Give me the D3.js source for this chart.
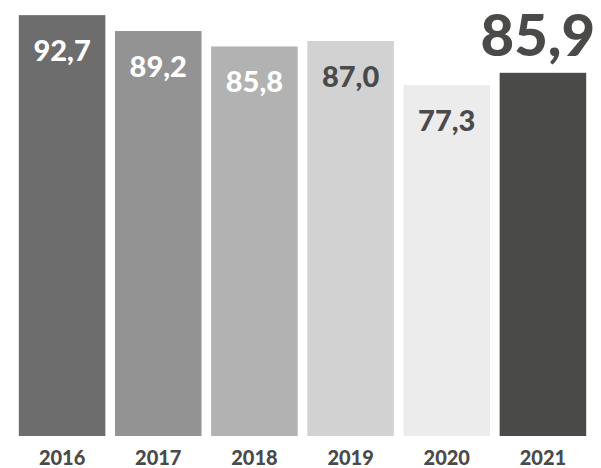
<!DOCTYPE html>
<html>
<head>
<meta charset="utf-8">
<script src="https://cdn.jsdelivr.net/npm/d3@7"></script>
<style>
  body { margin: 0; background: #fff; }
  svg text { font-family: Lato, "Open Sans", sans-serif; font-weight: 900; }
</style>
</head>
<body>
<div id="chart"></div>
<script>
const years = ["2016", "2017", "2018", "2019", "2020", "2021"]
// values shown in the labels
const valueLabels = ["92,7", "89,2", "85,8", "87,0", "77,3", "85,9"]
// bar heights as drawn in the picture (2021 bar is shortened to leave room for its big label)
const barValues = [92.7, 89.2, 85.8, 87.0, 77.3, 80.0]
const barColors = ["#6d6d6d", "#939393", "#b2b2b2", "#d2d2d2", "#ececec", "#4a4a48"]
const labelColors = ["#fff", "#fff", "#fff", "#4a4a4a", "#4a4a4a", "#4a4a48"]

const w = 601
const h = 468
const bottom = 436

const svg = d3.select("#chart").append("svg").attr("width", w).attr("height", h)

const x = d3.scaleBand()
	.domain(years)
	.range([14, 591])
	.paddingInner(0.1)
	.paddingOuter(0.05)

const y = d3.scaleLinear()
	.domain([0, 100])
	.range([bottom, bottom - 454])

svg.selectAll("rect")
	.data(barValues)
	.enter()
	.append("rect")
	.attr("x", (d, i) => x(years[i]))
	.attr("width", x.bandwidth())
	.attr("y", d => y(d))
	.attr("height", d => bottom - y(d))
	.attr("fill", (d, i) => barColors[i])

// value labels inside the bars (last one big, above the bar)
svg.selectAll("text.value")
	.data(barValues)
	.enter()
	.append("text")
	.attr("class", "value")
	.attr("text-anchor", "middle")
	.attr("x", (d, i) => x(years[i]) + x.bandwidth() / 2 - (i === 5 ? 5 : 0))
	.attr("y", (d, i) => i === 5 ? y(d) - 17 : y(d) + 46)
	.attr("font-size", (d, i) => i === 5 ? 58 : 29)
	.attr("fill", (d, i) => labelColors[i])
	.text((d, i) => valueLabels[i])

// year axis
const xAxis = d3.axisBottom(x).tickSize(0).tickPadding(0)
const gx = svg.append("g").attr("transform", `translate(0, ${bottom})`).call(xAxis)
gx.select(".domain").remove()
gx.selectAll("text")
	.attr("dy", 0)
	.attr("y", 29)
	.attr("font-size", 20)
	.attr("fill", "#4a4a4a")
	.style("font-family", "Lato, 'Open Sans', sans-serif")
	.style("font-weight", 900)
</script>
</body>
</html>
